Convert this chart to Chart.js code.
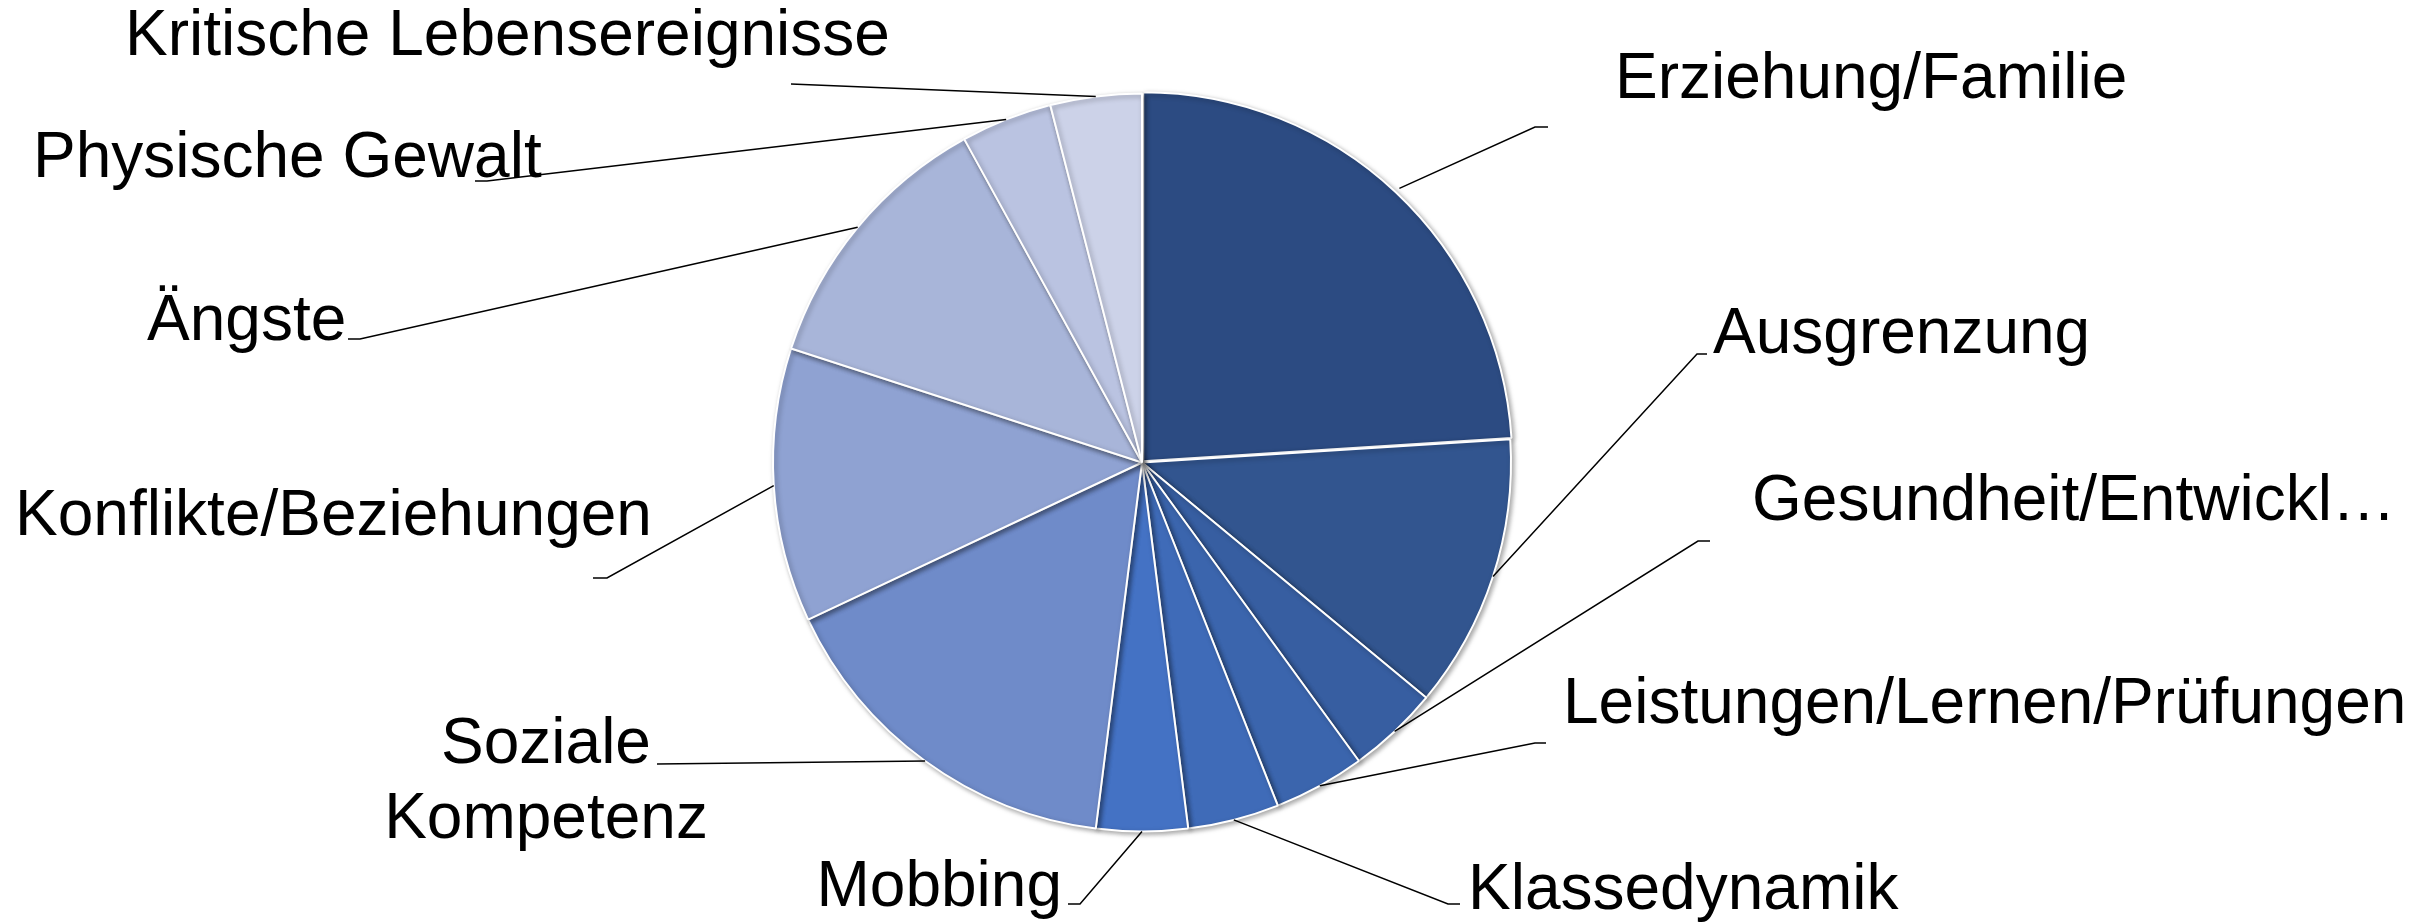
<!DOCTYPE html>
<html lang="de">
<head>
<meta charset="utf-8">
<title>Themen</title>
<script src="https://cdn.jsdelivr.net/npm/chart.js@4.4.1/dist/chart.umd.min.js"></script>
<style>
    html, body { margin: 0; padding: 0; background: #ffffff; }
    #wrap { width: 2415px; height: 922px; }
</style>
</head>
<body>
<div id="wrap"><canvas id="pie" width="2415" height="922"></canvas></div>
<script>
// Slice order is clockwise from 12 o'clock, same as the original chart.
const categories = [
    'Erziehung/Familie', 'Ausgrenzung', 'Gesundheit/Entwickl…', 'Leistungen/Lernen/Prüfungen',
    'Klassedynamik', 'Mobbing', 'Soziale Kompetenz', 'Konflikte/Beziehungen',
    'Ängste', 'Physische Gewalt', 'Kritische Lebensereignisse'
];
const shares = [24, 12, 4, 4, 4, 4, 16, 12, 12, 4, 4];

const sliceColors = [
    '#2c4b82', '#32558f', '#375ea1', '#3b65ad', '#3f6bb8', '#4472c4',
    '#6f8bc9', '#8fa2d2', '#a8b5d9', '#bac3e1', '#ccd2e8'
];

// Where each outside label sits (the picture places them by hand, not on a ring).
// end = where the leader line stops, stub = x of the short horizontal tail.
const labelLayout = [
    { lines: ['Erziehung/Familie'], x: 1615, y: 98, align: 'left', end: [1535, 127], stub: 1548 },
    { lines: ['Ausgrenzung'], x: 1713, y: 353, align: 'left', end: [1697, 354], stub: 1707 },
    { lines: ['Gesundheit/Entwickl…'], x: 1752, y: 520, align: 'left', end: [1698, 541], stub: 1710 },
    { lines: ['Leistungen/Lernen/Prüfungen'], x: 1563, y: 723, align: 'left', end: [1535, 743], stub: 1546 },
    { lines: ['Klassedynamik'], x: 1468, y: 909, align: 'left', end: [1448, 904], stub: 1460 },
    { lines: ['Mobbing'], x: 1062, y: 906, align: 'right', end: [1080, 904], stub: 1068 },
    { lines: ['Soziale', 'Kompetenz'], x: 546, y: 763, align: 'center', end: [657, 764], stub: null },
    { lines: ['Konflikte/Beziehungen'], x: 15, y: 535, align: 'left', end: [607, 578], stub: 593 },
    { lines: ['Ängste'], x: 147, y: 340, align: 'left', end: [360, 339], stub: 348 },
    { lines: ['Physische Gewalt'], x: 33, y: 177, align: 'left', end: [487, 181], stub: 475 },
    { lines: ['Kritische Lebensereignisse'], x: 125, y: 55, align: 'left', end: [791, 84], stub: null }
];

const LABEL_FONT = '64px "Liberation Sans", Arial, sans-serif';
const LINE_GAP = 75;

// soft drop shadow under the slices only (the original has an Office-style shadow)
const sliceShadow = {
    id: 'sliceShadow',
    beforeDatasetDraw(chart) {
        const ctx = chart.ctx;
        ctx.save();
        ctx.shadowColor = 'rgba(0, 0, 0, 0.35)';
        ctx.shadowBlur = 5;
        ctx.shadowOffsetX = 2;
        ctx.shadowOffsetY = 2;
    },
    afterDatasetDraw(chart) {
        chart.ctx.restore();
    }
};

const outsideLabels = {
    id: 'outsideLabels',
    afterDatasetsDraw(chart) {
        const ctx = chart.ctx;
        const meta = chart.getDatasetMeta(0);
        ctx.save();
        ctx.strokeStyle = '#000000';
        ctx.lineWidth = 1.5;
        ctx.fillStyle = '#000000';
        ctx.font = LABEL_FONT;
        ctx.textBaseline = 'alphabetic';

        meta.data.forEach((arc, i) => {
            const L = labelLayout[i];
            if (!L) return;
            const p = arc.getProps(['x', 'y', 'startAngle', 'endAngle', 'outerRadius'], true);
            const mid = (p.startAngle + p.endAngle) / 2;
            const r = p.outerRadius + (arc.options.offset || 0);
            const sx = p.x + Math.cos(mid) * r;
            const sy = p.y + Math.sin(mid) * r;

            ctx.beginPath();
            ctx.moveTo(sx, sy);
            ctx.lineTo(L.end[0], L.end[1]);
            if (L.stub !== null) ctx.lineTo(L.stub, L.end[1]);
            ctx.stroke();

            ctx.textAlign = L.align;
            L.lines.forEach((txt, k) => ctx.fillText(txt, L.x, L.y + k * LINE_GAP));
        });
        ctx.restore();
    }
};

new Chart(document.getElementById('pie'), {
    type: 'pie',
    data: {
        labels: categories,
        datasets: [{
            data: shares,
            backgroundColor: sliceColors,
            borderColor: '#ffffff',
            borderWidth: 2,
            radius: 369,
            offset: [7, 0, 0, 0, 0, 0, 0, 0, 0, 0, 0]
        }]
    },
    options: {
        responsive: false,
        animation: false,
        layout: { padding: { left: 0, right: 131, top: 3, bottom: 0 } },
        plugins: {
            legend: { display: false },
            tooltip: { enabled: false }
        }
    },
    plugins: [sliceShadow, outsideLabels]
});
</script>
</body>
</html>
